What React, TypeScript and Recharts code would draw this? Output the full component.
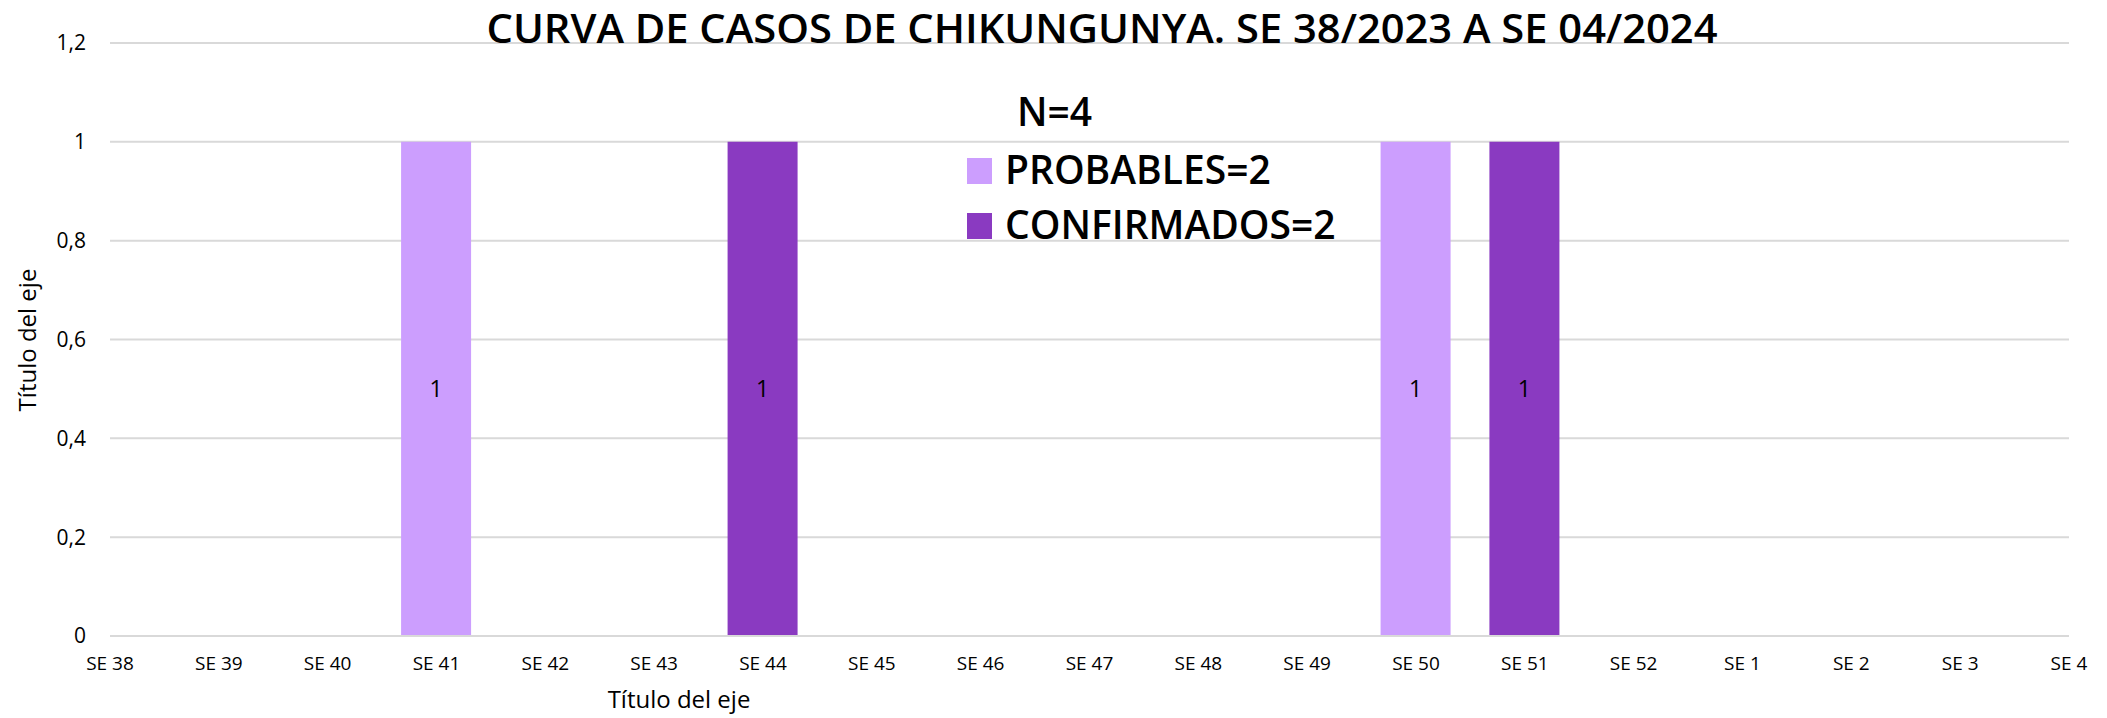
import React from 'react'
import { BarChart, Bar, XAxis, YAxis, CartesianGrid, Legend, LabelList } from 'recharts'

const weeks = [
  'SE 38', 'SE 39', 'SE 40', 'SE 41', 'SE 42', 'SE 43', 'SE 44', 'SE 45', 'SE 46', 'SE 47',
  'SE 48', 'SE 49', 'SE 50', 'SE 51', 'SE 52', 'SE 1', 'SE 2', 'SE 3', 'SE 4',
]
const probables = [0, 0, 0, 1, 0, 0, 0, 0, 0, 0, 0, 0, 1, 0, 0, 0, 0, 0, 0]
const confirmados = [0, 0, 0, 0, 0, 0, 1, 0, 0, 0, 0, 0, 0, 1, 0, 0, 0, 0, 0]
const yTicks = [0, 0.2, 0.4, 0.6, 0.8, 1, 1.2]

const LIGHT = '#cc9efe'
const DARK = '#8a3ac1'
const FONT = '"Open Sans", "Noto Sans", sans-serif'

const data = weeks.map((w, i) => ({ idx: i, week: w, probables: probables[i], confirmados: confirmados[i] }))
const xTicks = weeks.map((_, i) => i)

const fmtY = (v: number) => String(v).replace('.', ',')
const hideZero = (v: any) => (v ? v : '')

function LegendBox() {
  const row = (color: string, label: string, top: number) => (
    <div style={{ position: 'absolute', left: 967, top, height: 40, lineHeight: '40px', whiteSpace: 'nowrap' }}>
      <span style={{ position: 'absolute', left: 0, top: 9, width: 25, height: 26, background: color }} />
      <span style={{ position: 'absolute', left: 38, top: 0, fontSize: 39, fontWeight: 600 }}>{label}</span>
    </div>
  )
  return (
    <div style={{ position: 'relative', width: 2107, height: 0, fontFamily: FONT, color: '#000' }}>
      <div style={{ position: 'absolute', left: 1017, top: 91, fontSize: 39, fontWeight: 600, lineHeight: '40px' }}>N=4</div>
      {row(LIGHT, 'PROBABLES=2', 149)}
      {row(DARK, 'CONFIRMADOS=2', 204)}
    </div>
  )
}

export default function App() {
  return (
    <div style={{ position: 'absolute', left: 0, top: 0, width: 2107, height: 718, background: '#fff', fontFamily: FONT }}>
      <BarChart
        width={2107}
        height={718}
        data={data}
        margin={{ top: 43, right: 38, bottom: 42, left: 50 }}
      >
        <CartesianGrid vertical={false} stroke="#d9d9d9" strokeWidth={2} />
        <XAxis
          type="number"
          dataKey="idx"
          domain={[0, 18]}
          ticks={xTicks}
          interval={0}
          tickFormatter={(i: number) => weeks[i]}
          tickLine={false}
          tickSize={0}
          tickMargin={21}
          height={40}
          axisLine={{ stroke: '#d9d9d9', strokeWidth: 2 }}
          tick={{ fontSize: 19, fill: '#000' }}
        />
        <YAxis
          domain={[0, 1.2]}
          ticks={yTicks}
          width={60}
          tickFormatter={fmtY}
          axisLine={false}
          tickLine={false}
          tickSize={0}
          tickMargin={24}
          tick={{ fontSize: 21, fill: '#000' }}
        />
        <Legend
          layout="horizontal"
          verticalAlign="middle"
          wrapperStyle={{ left: 0, top: 0, width: 2107, height: 0 }}
          content={() => <LegendBox />}
        />
        <Bar dataKey="probables" name="PROBABLES=2" stackId="a" fill={LIGHT} barSize={70} isAnimationActive={false}>
          <LabelList dataKey="probables" position="center" formatter={hideZero} style={{ fontSize: 23, fontWeight: 500, fill: '#000' }} />
        </Bar>
        <Bar dataKey="confirmados" name="CONFIRMADOS=2" stackId="a" fill={DARK} barSize={70} isAnimationActive={false}>
          <LabelList dataKey="confirmados" position="center" formatter={hideZero} style={{ fontSize: 23, fontWeight: 500, fill: '#000' }} />
        </Bar>
      </BarChart>
      <svg width={2107} height={718} style={{ position: 'absolute', left: 0, top: 0, pointerEvents: 'none' }}>
        <text
          x={1102}
          y={43}
          textAnchor="middle"
          fontSize={39}
          fontWeight={600}
          fill="#000"
          fontFamily={FONT}
          textLength={1231}
          lengthAdjust="spacingAndGlyphs"
        >
          CURVA DE CASOS DE CHIKUNGUNYA. SE 38/2023 A SE 04/2024
        </text>
        <text x={679} y={708} textAnchor="middle" fontSize={24} fill="#000" fontFamily={FONT}>
          Título del eje
        </text>
        <text x={36} y={340} transform="rotate(-90 36 340)" textAnchor="middle" fontSize={24} fill="#000" fontFamily={FONT}>
          Título del eje
        </text>
      </svg>
    </div>
  )
}
